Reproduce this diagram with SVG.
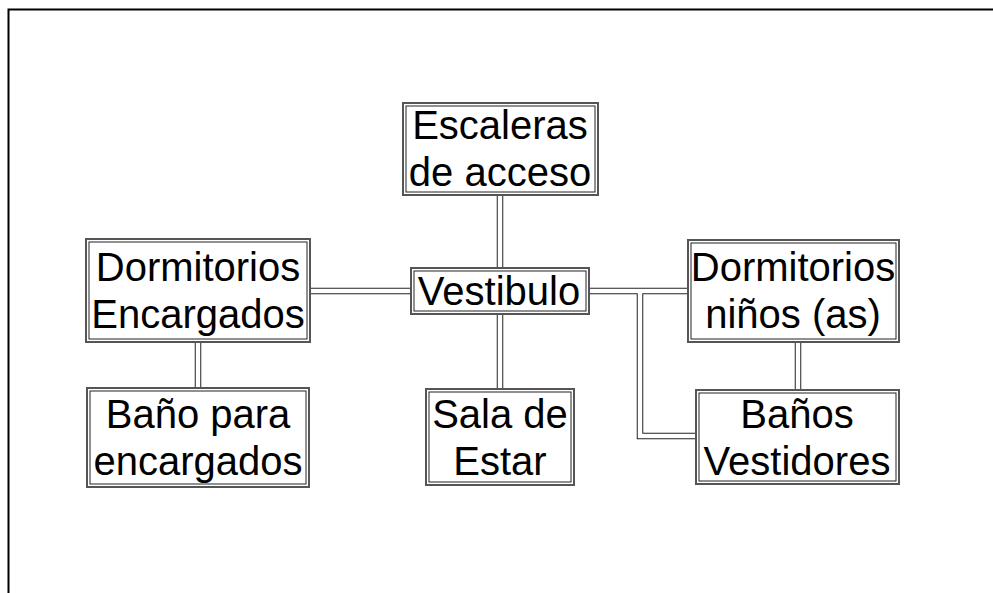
<svg xmlns="http://www.w3.org/2000/svg" width="993" height="593" viewBox="0 0 993 593">
<style>
.frame{fill:none;stroke:#000;stroke-width:2}
.co{fill:none;stroke:#222;stroke-width:6.5}
.ci{fill:none;stroke:#fff;stroke-width:4.5}
.bo{fill:#fff;stroke:#555;stroke-width:2}
.bi{fill:none;stroke:#222;stroke-width:1}
text{font-family:"Liberation Sans",Arial,sans-serif;font-size:40px;fill:#000;text-anchor:middle}
</style>
<rect width="993" height="593" fill="#fff"/>
<path class="frame" d="M8.5,593 V9.5 H993"/>
<g id="connectors">
<path class="co" d="M500,195 V268 M500,314 V389 M310,291 H411 M198,342 V388 M589,291 H688 M640,291 V436 H696 M798,342 V390"/>
<path class="ci" d="M500,195 V268 M500,314 V389 M310,291 H411 M198,342 V388 M589,291 H688 M640,291 V436 H696 M798,342 V390"/>
</g>
<g id="escaleras">
<rect class="bo" x="403" y="103" width="195" height="92"/>
<rect class="bi" x="406" y="106" width="189" height="86"/>
<text x="500" y="139">Escaleras</text>
<text x="500" y="186">de acceso</text>
</g>
<g id="vestibulo">
<rect class="bo" x="411" y="268" width="178" height="46"/>
<rect class="bi" x="414" y="271" width="172" height="40"/>
<text x="499" y="305">Vestibulo</text>
</g>
<g id="dorm-encargados">
<rect class="bo" x="86" y="239" width="224" height="103"/>
<rect class="bi" x="89" y="242" width="218" height="97"/>
<text x="198" y="281">Dormitorios</text>
<text x="198" y="328">Encargados</text>
</g>
<g id="bano-encargados">
<rect class="bo" x="87" y="388" width="222" height="99"/>
<rect class="bi" x="90" y="391" width="216" height="93"/>
<text x="198" y="428">Baño para</text>
<text x="198" y="475">encargados</text>
</g>
<g id="sala">
<rect class="bo" x="426" y="389" width="148" height="96"/>
<rect class="bi" x="429" y="392" width="142" height="90"/>
<text x="500" y="428">Sala de</text>
<text x="500" y="475">Estar</text>
</g>
<g id="dorm-ninos">
<rect class="bo" x="688" y="240" width="211" height="102"/>
<rect class="bi" x="691" y="243" width="205" height="96"/>
<text x="793" y="281">Dormitorios</text>
<text x="793" y="328">niños (as)</text>
</g>
<g id="banos-vestidores">
<rect class="bo" x="696" y="390" width="203" height="94"/>
<rect class="bi" x="699" y="393" width="197" height="88"/>
<text x="797" y="428">Baños</text>
<text x="797" y="475">Vestidores</text>
</g>
</svg>
